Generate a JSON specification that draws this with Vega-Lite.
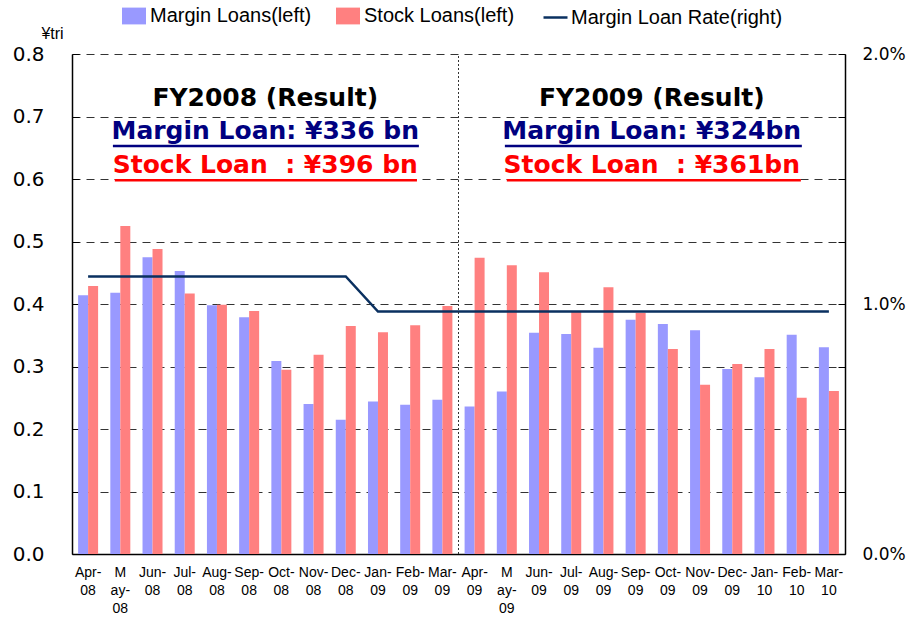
{
  "$schema": "https://vega.github.io/schema/vega-lite/v6.json",
  "width": 773,
  "height": 500,
  "autosize": {"type": "none"},
  "padding": {"left": 72, "top": 54, "right": 65, "bottom": 63},
  "background": "white",
  "config": {"view": {"stroke": null}, "font": "DejaVu Sans"},
  "datasets": {
    "bars": [
      {"month": "Apr-08", "series": "Margin Loans(left)", "value": 0.414},
      {"month": "May-08", "series": "Margin Loans(left)", "value": 0.418},
      {"month": "Jun-08", "series": "Margin Loans(left)", "value": 0.475},
      {"month": "Jul-08", "series": "Margin Loans(left)", "value": 0.453},
      {"month": "Aug-08", "series": "Margin Loans(left)", "value": 0.398},
      {"month": "Sep-08", "series": "Margin Loans(left)", "value": 0.379},
      {"month": "Oct-08", "series": "Margin Loans(left)", "value": 0.309},
      {"month": "Nov-08", "series": "Margin Loans(left)", "value": 0.240},
      {"month": "Dec-08", "series": "Margin Loans(left)", "value": 0.215},
      {"month": "Jan-09", "series": "Margin Loans(left)", "value": 0.244},
      {"month": "Feb-09", "series": "Margin Loans(left)", "value": 0.239},
      {"month": "Mar-09", "series": "Margin Loans(left)", "value": 0.247},
      {"month": "Apr-09", "series": "Margin Loans(left)", "value": 0.236},
      {"month": "May-09", "series": "Margin Loans(left)", "value": 0.260},
      {"month": "Jun-09", "series": "Margin Loans(left)", "value": 0.354},
      {"month": "Jul-09", "series": "Margin Loans(left)", "value": 0.352},
      {"month": "Aug-09", "series": "Margin Loans(left)", "value": 0.330},
      {"month": "Sep-09", "series": "Margin Loans(left)", "value": 0.375},
      {"month": "Oct-09", "series": "Margin Loans(left)", "value": 0.368},
      {"month": "Nov-09", "series": "Margin Loans(left)", "value": 0.358},
      {"month": "Dec-09", "series": "Margin Loans(left)", "value": 0.296},
      {"month": "Jan-10", "series": "Margin Loans(left)", "value": 0.283},
      {"month": "Feb-10", "series": "Margin Loans(left)", "value": 0.351},
      {"month": "Mar-10", "series": "Margin Loans(left)", "value": 0.331},
      {"month": "Apr-08", "series": "Stock Loans(left)", "value": 0.429},
      {"month": "May-08", "series": "Stock Loans(left)", "value": 0.525},
      {"month": "Jun-08", "series": "Stock Loans(left)", "value": 0.488},
      {"month": "Jul-08", "series": "Stock Loans(left)", "value": 0.417},
      {"month": "Aug-08", "series": "Stock Loans(left)", "value": 0.399},
      {"month": "Sep-08", "series": "Stock Loans(left)", "value": 0.389},
      {"month": "Oct-08", "series": "Stock Loans(left)", "value": 0.295},
      {"month": "Nov-08", "series": "Stock Loans(left)", "value": 0.319},
      {"month": "Dec-08", "series": "Stock Loans(left)", "value": 0.365},
      {"month": "Jan-09", "series": "Stock Loans(left)", "value": 0.355},
      {"month": "Feb-09", "series": "Stock Loans(left)", "value": 0.366},
      {"month": "Mar-09", "series": "Stock Loans(left)", "value": 0.397},
      {"month": "Apr-09", "series": "Stock Loans(left)", "value": 0.474},
      {"month": "May-09", "series": "Stock Loans(left)", "value": 0.462},
      {"month": "Jun-09", "series": "Stock Loans(left)", "value": 0.451},
      {"month": "Jul-09", "series": "Stock Loans(left)", "value": 0.388},
      {"month": "Aug-09", "series": "Stock Loans(left)", "value": 0.427},
      {"month": "Sep-09", "series": "Stock Loans(left)", "value": 0.386},
      {"month": "Oct-09", "series": "Stock Loans(left)", "value": 0.328},
      {"month": "Nov-09", "series": "Stock Loans(left)", "value": 0.271},
      {"month": "Dec-09", "series": "Stock Loans(left)", "value": 0.304},
      {"month": "Jan-10", "series": "Stock Loans(left)", "value": 0.328},
      {"month": "Feb-10", "series": "Stock Loans(left)", "value": 0.250},
      {"month": "Mar-10", "series": "Stock Loans(left)", "value": 0.261}
    ],
    "rate": [
      {"month": "Apr-08", "series": "Margin Loan Rate(right)", "rate": 1.11},
      {"month": "May-08", "series": "Margin Loan Rate(right)", "rate": 1.11},
      {"month": "Jun-08", "series": "Margin Loan Rate(right)", "rate": 1.11},
      {"month": "Jul-08", "series": "Margin Loan Rate(right)", "rate": 1.11},
      {"month": "Aug-08", "series": "Margin Loan Rate(right)", "rate": 1.11},
      {"month": "Sep-08", "series": "Margin Loan Rate(right)", "rate": 1.11},
      {"month": "Oct-08", "series": "Margin Loan Rate(right)", "rate": 1.11},
      {"month": "Nov-08", "series": "Margin Loan Rate(right)", "rate": 1.11},
      {"month": "Dec-08", "series": "Margin Loan Rate(right)", "rate": 1.11},
      {"month": "Jan-09", "series": "Margin Loan Rate(right)", "rate": 0.97},
      {"month": "Feb-09", "series": "Margin Loan Rate(right)", "rate": 0.97},
      {"month": "Mar-09", "series": "Margin Loan Rate(right)", "rate": 0.97},
      {"month": "Apr-09", "series": "Margin Loan Rate(right)", "rate": 0.97},
      {"month": "May-09", "series": "Margin Loan Rate(right)", "rate": 0.97},
      {"month": "Jun-09", "series": "Margin Loan Rate(right)", "rate": 0.97},
      {"month": "Jul-09", "series": "Margin Loan Rate(right)", "rate": 0.97},
      {"month": "Aug-09", "series": "Margin Loan Rate(right)", "rate": 0.97},
      {"month": "Sep-09", "series": "Margin Loan Rate(right)", "rate": 0.97},
      {"month": "Oct-09", "series": "Margin Loan Rate(right)", "rate": 0.97},
      {"month": "Nov-09", "series": "Margin Loan Rate(right)", "rate": 0.97},
      {"month": "Dec-09", "series": "Margin Loan Rate(right)", "rate": 0.97},
      {"month": "Jan-10", "series": "Margin Loan Rate(right)", "rate": 0.97},
      {"month": "Feb-10", "series": "Margin Loan Rate(right)", "rate": 0.97},
      {"month": "Mar-10", "series": "Margin Loan Rate(right)", "rate": 0.97}
    ],
    "divider": [{"pos": 12, "lo": 0, "hi": 0.8}],
    "notes": [
      {"kind": "title", "x": 6, "y": 0.73, "label": "FY2008 (Result)"},
      {"kind": "title", "x": 18, "y": 0.73, "label": "FY2009 (Result)"},
      {"kind": "margin", "x": 6, "y": 0.677, "label": "Margin Loan: ¥336 bn"},
      {"kind": "margin", "x": 18, "y": 0.677, "label": "Margin Loan: ¥324bn"},
      {"kind": "stock", "x": 6, "y": 0.622, "label": "Stock Loan\u00a0 : ¥396 bn"},
      {"kind": "stock", "x": 18, "y": 0.622, "label": "Stock Loan\u00a0 : ¥361bn"}
    ],
    "underlines": [
      {"kind": "margin", "x": 1.27, "x2": 10.77, "y": 0.653},
      {"kind": "stock", "x": 1.33, "x2": 10.71, "y": 0.598},
      {"kind": "margin", "x": 13.44, "x2": 22.66, "y": 0.653},
      {"kind": "stock", "x": 13.5, "x2": 22.63, "y": 0.598}
    ]
  },
  "layer": [
    {
      "data": {"name": "bars"},
      "transform": [{"filter": "datum.series === 'Margin Loans(left)'"}],
      "mark": {"type": "bar", "width": 10, "xOffset": -5},
      "encoding": {
        "x": {
          "field": "month", "type": "nominal", "sort": null,
          "scale": {"paddingInner": 0.38, "paddingOuter": 0.19},
          "axis": {
            "title": null, "ticks": false, "labelAngle": 0,
            "labelFont": "Liberation Sans", "labelFontSize": 14, "labelColor": "black",
            "labelExpr": "slice(datum.value, 0, 3) === 'May' ? ['M', 'ay-', slice(datum.value, 4)] : [slice(datum.value, 0, 4), slice(datum.value, 4)]",
            "labelLineHeight": 18, "labelPadding": 11, "labelBaseline": "top",
            "domainColor": "black", "domainWidth": 1.5
          }
        },
        "y": {
          "field": "value", "type": "quantitative",
          "scale": {"domain": [0, 0.8], "nice": false},
          "axis": {
            "title": "¥tri", "titleAngle": 0, "titleX": -20, "titleY": -21,
            "titleAlign": "center", "titleBaseline": "middle",
            "titleFont": "Liberation Sans", "titleFontSize": 16, "titleFontWeight": "normal", "titleColor": "black",
            "values": [0, 0.1, 0.2, 0.3, 0.4, 0.5, 0.6, 0.7, 0.8], "format": ".1f",
            "labelFont": "DejaVu Sans", "labelFontSize": 20, "labelColor": "black",
            "tickSize": -7, "tickColor": "black", "labelPadding": 35,
            "domainColor": "black", "domainWidth": 1.5,
            "grid": true, "gridDash": [8, 6], "gridColor": "#333333", "gridWidth": 1
          }
        },
        "color": {
          "field": "series", "type": "nominal",
          "scale": {
            "domain": ["Margin Loans(left)", "Stock Loans(left)"],
            "range": ["#9999ff", "#ff8080"]
          },
          "legend": {
            "orient": "none", "direction": "horizontal", "legendX": 50, "legendY": -50,
            "title": null, "labelFont": "Liberation Sans", "labelFontSize": 20, "labelColor": "black",
            "labelLimit": 300, "symbolSize": 576, "columnPadding": 24, "labelOffset": 4,
            "symbolType": "M-1,-0.7H1V0.7H-1Z", "symbolOpacity": 1, "symbolStrokeWidth": 0
          }
        }
      }
    },
    {
      "data": {"name": "bars"},
      "transform": [{"filter": "datum.series === 'Stock Loans(left)'"}],
      "mark": {"type": "bar", "width": 10, "xOffset": 5},
      "encoding": {
        "x": {
          "field": "month", "type": "nominal", "sort": null,
          "scale": {"paddingInner": 0.38, "paddingOuter": 0.19},
          "axis": null
        },
        "y": {
          "field": "value", "type": "quantitative",
          "scale": {"domain": [0, 0.8], "nice": false},
          "axis": null
        },
        "color": {"field": "series", "type": "nominal"}
      }
    },
    {
      "data": {"name": "rate"},
      "mark": {"type": "line", "strokeWidth": 2.5},
      "encoding": {
        "x": {
          "field": "month", "type": "nominal", "sort": null,
          "scale": {"type": "band", "paddingInner": 0.38, "paddingOuter": 0.19},
          "axis": null
        },
        "y": {
          "field": "rate", "type": "quantitative",
          "scale": {"domain": [0, 2], "nice": false},
          "axis": {
            "orient": "right", "title": null,
            "values": [0, 0.25, 0.5, 0.75, 1, 1.25, 1.5, 1.75, 2],
            "labelExpr": "datum.value % 1 === 0 ? format(datum.value, '.1f') + '%' : ''",
            "labelFont": "DejaVu Sans", "labelFontSize": 17, "labelColor": "black",
            "tickSize": -7, "tickColor": "black", "labelPadding": 24,
            "domainColor": "black", "domainWidth": 1.5, "grid": false
          }
        },
        "stroke": {
          "field": "series", "type": "nominal",
          "scale": {"domain": ["Margin Loan Rate(right)"], "range": ["#0a3060"]},
          "legend": {
            "orient": "none", "direction": "horizontal", "legendX": 470, "legendY": -50,
            "title": null, "labelFont": "Liberation Sans", "labelFontSize": 20, "labelColor": "black",
            "labelLimit": 300, "symbolSize": 576, "labelOffset": 2,
            "symbolType": "stroke", "symbolStrokeWidth": 2.5, "symbolOpacity": 1
          }
        }
      }
    },
    {
      "data": {"name": "divider"},
      "mark": {"type": "rule", "strokeDash": [2, 2], "color": "#333333", "strokeWidth": 1},
      "encoding": {
        "x": {"field": "pos", "type": "quantitative", "scale": {"domain": [0, 24], "nice": false}, "axis": null},
        "y": {"field": "lo", "type": "quantitative", "scale": {"domain": [0, 0.8], "nice": false}, "axis": null},
        "y2": {"field": "hi"}
      }
    },
    {
      "data": {"name": "notes"},
      "transform": [{"filter": "datum.kind === 'title'"}],
      "mark": {"type": "text", "font": "DejaVu Sans", "fontWeight": "bold", "fontSize": 25, "align": "center", "baseline": "middle", "color": "black"},
      "encoding": {
        "x": {"field": "x", "type": "quantitative", "scale": {"domain": [0, 24], "nice": false}, "axis": null},
        "y": {"field": "y", "type": "quantitative", "scale": {"domain": [0, 0.8], "nice": false}, "axis": null},
        "text": {"field": "label"}
      }
    },
    {
      "data": {"name": "notes"},
      "transform": [{"filter": "datum.kind === 'margin'"}],
      "mark": {"type": "text", "font": "DejaVu Sans", "fontWeight": "bold", "fontSize": 25, "align": "center", "baseline": "middle", "color": "#000080"},
      "encoding": {
        "x": {"field": "x", "type": "quantitative", "scale": {"domain": [0, 24], "nice": false}, "axis": null},
        "y": {"field": "y", "type": "quantitative", "scale": {"domain": [0, 0.8], "nice": false}, "axis": null},
        "text": {"field": "label"}
      }
    },
    {
      "data": {"name": "notes"},
      "transform": [{"filter": "datum.kind === 'stock'"}],
      "mark": {"type": "text", "font": "DejaVu Sans", "fontWeight": "bold", "fontSize": 25, "align": "center", "baseline": "middle", "color": "#ff0000"},
      "encoding": {
        "x": {"field": "x", "type": "quantitative", "scale": {"domain": [0, 24], "nice": false}, "axis": null},
        "y": {"field": "y", "type": "quantitative", "scale": {"domain": [0, 0.8], "nice": false}, "axis": null},
        "text": {"field": "label"}
      }
    },
    {
      "data": {"name": "underlines"},
      "transform": [{"filter": "datum.kind === 'margin'"}],
      "mark": {"type": "rule", "color": "#000080", "strokeWidth": 2.5},
      "encoding": {
        "x": {"field": "x", "type": "quantitative", "scale": {"domain": [0, 24], "nice": false}, "axis": null},
        "x2": {"field": "x2"},
        "y": {"field": "y", "type": "quantitative", "scale": {"domain": [0, 0.8], "nice": false}, "axis": null}
      }
    },
    {
      "data": {"name": "underlines"},
      "transform": [{"filter": "datum.kind === 'stock'"}],
      "mark": {"type": "rule", "color": "#ff0000", "strokeWidth": 2.5},
      "encoding": {
        "x": {"field": "x", "type": "quantitative", "scale": {"domain": [0, 24], "nice": false}, "axis": null},
        "x2": {"field": "x2"},
        "y": {"field": "y", "type": "quantitative", "scale": {"domain": [0, 0.8], "nice": false}, "axis": null}
      }
    }
  ],
  "resolve": {"scale": {"x": "independent", "y": "independent"}}
}
